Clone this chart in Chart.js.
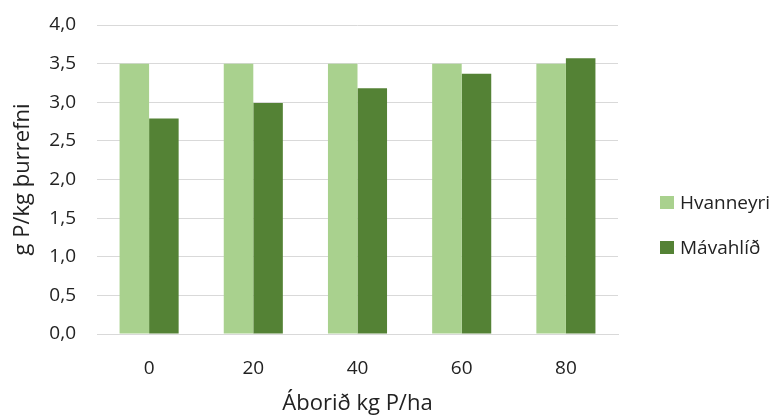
<!DOCTYPE html>
<html>
<head>
<meta charset="utf-8">
<script src="https://cdn.jsdelivr.net/npm/chart.js@4/dist/chart.umd.min.js"></script>
<style>
  html, body { margin: 0; padding: 0; background: #fff; }
  #wrap { width: 780px; height: 417px; position: relative; }
</style>
</head>
<body>
<div id="wrap"><canvas id="c" width="780" height="417"></canvas></div>
<script>
// Phosphorus application rates (kg P/ha)
const categories = ['0', '20', '40', '60', '80'];
// P concentration in dry matter (g P/kg) per site
const hvanneyri = [3.5, 3.5, 3.5, 3.5, 3.5];
const mavahlid = [2.79, 2.99, 3.18, 3.37, 3.57];
const seriesNames = ['Hvanneyri', 'Mávahlíð'];
const seriesColors = ['#A9D18E', '#548235'];

const FONT = "'Open Sans', 'Liberation Sans', sans-serif";
const TEXT = '#222222';

// Legend drawn at the right, stacked, beside the plot
const sideLegend = {
  id: 'sideLegend',
  afterDraw(chart) {
    const ctx = chart.ctx;
    ctx.save();
    ctx.font = '19px ' + FONT;
    ctx.textBaseline = 'middle';
    chart.data.datasets.forEach((ds, i) => {
      const y = 202.5 + i * 45;
      ctx.fillStyle = ds.backgroundColor;
      ctx.fillRect(660, y - 6.5, 14, 13);
      ctx.fillStyle = TEXT;
      ctx.fillText(ds.label, 680, y + 1);
    });
    ctx.restore();
  }
};

new Chart(document.getElementById('c'), {
  type: 'bar',
  data: {
    labels: categories,
    datasets: [
      { label: seriesNames[0], data: hvanneyri, backgroundColor: seriesColors[0] },
      { label: seriesNames[1], data: mavahlid, backgroundColor: seriesColors[1] }
    ]
  },
  options: {
    responsive: false,
    animation: false,
    layout: { padding: { top: 25, right: 162, bottom: 0, left: 0 } },
    datasets: { bar: { barPercentage: 1.0, categoryPercentage: 0.567 } },
    plugins: { legend: { display: false }, tooltip: { enabled: false } },
    scales: {
      x: {
        grid: { display: false },
        border: { color: '#d9d9d9', width: 1 },
        ticks: { color: TEXT, font: { family: FONT, size: 19 }, padding: 15 },
        title: { display: true, text: 'Áborið kg P/ha', color: TEXT, font: { family: FONT, size: 22 }, padding: { top: 0, bottom: 0 } },
        afterFit(scale) { scale.height = 83; }
      },
      y: {
        min: 0, max: 4,
        ticks: {
          stepSize: 0.5, color: TEXT, font: { family: FONT, size: 19, lineHeight: 0.3 }, padding: 21,
          callback: v => v.toFixed(1).replace('.', ',')
        },
        grid: { color: '#d9d9d9', lineWidth: 1, drawTicks: false },
        border: { display: false },
        title: { display: true, text: 'g P/kg þurrefni', color: TEXT, font: { family: FONT, size: 22 }, padding: { top: 10, bottom: 0 } },
        afterFit(scale) { scale.width = 97; }
      }
    }
  },
  plugins: [sideLegend]
});
</script>
</body>
</html>
